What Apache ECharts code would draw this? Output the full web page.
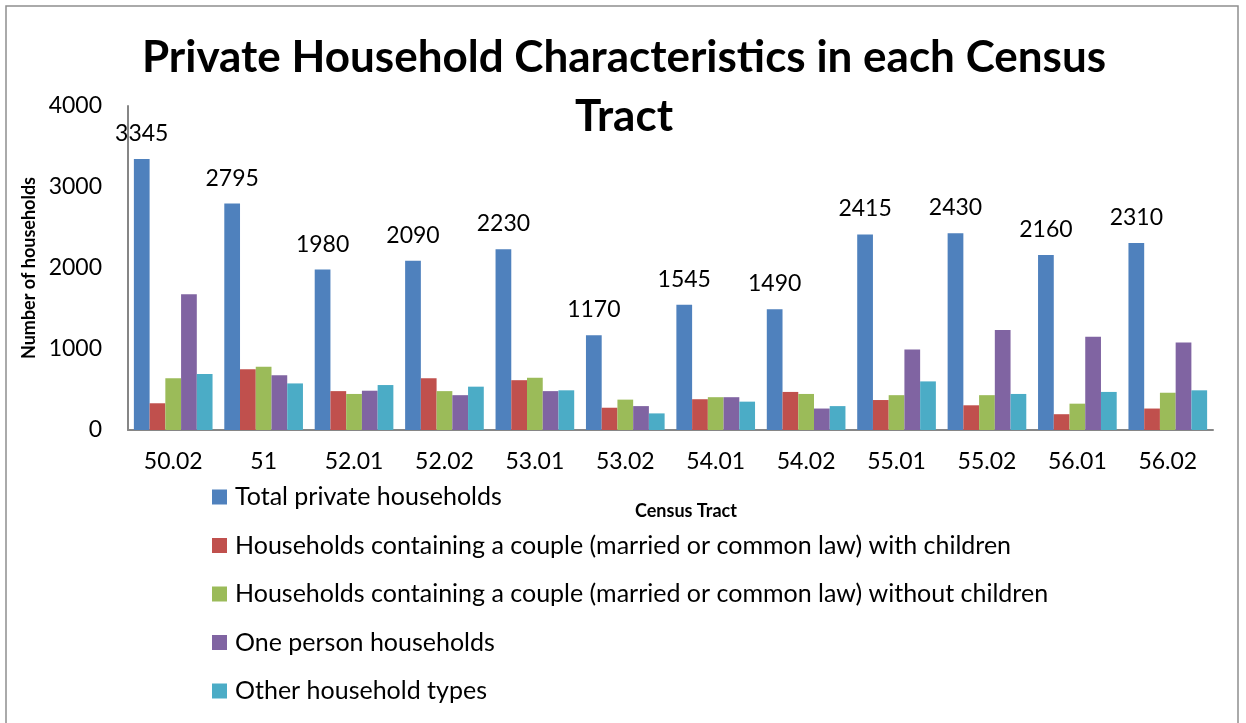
<!DOCTYPE html>
<html>
<head>
<meta charset="utf-8">
<script src="https://cdn.jsdelivr.net/npm/echarts@6/dist/echarts.min.js"></script>
<style>
  html, body { margin: 0; padding: 0; background: #ffffff; }
  #chart { width: 1246px; height: 723px; }
</style>
</head>
<body>
<div id="chart"></div>
<script>
// Census tracts on the category axis
const tracts = ['50.02', '51', '52.01', '52.02', '53.01', '53.02', '54.01', '54.02', '55.01', '55.02', '56.01', '56.02'];

// Household counts per tract
const totalHouseholds   = [3345, 2795, 1980, 2090, 2230, 1170, 1545, 1490, 2415, 2430, 2160, 2310];
const coupleWithKids    = [330, 750, 480, 640, 615, 275, 380, 470, 370, 305, 195, 265];
const coupleWithoutKids = [640, 780, 445, 480, 645, 375, 405, 445, 430, 430, 325, 460];
const onePerson         = [1675, 675, 485, 430, 480, 295, 405, 265, 995, 1235, 1150, 1080];
const otherTypes        = [690, 575, 555, 535, 490, 205, 350, 295, 600, 445, 470, 490];

const seriesNames = [
  'Total private households',
  'Households containing a couple (married or common law) with children',
  'Households containing a couple (married or common law) without children',
  'One person households',
  'Other household types'
];
const seriesData = [totalHouseholds, coupleWithKids, coupleWithoutKids, onePerson, otherTypes];
const palette = ['#4F81BD', '#C0504D', '#9BBB59', '#8064A2', '#4BACC6'];

const chartTitle = 'Private Household Characteristics in each Census\nTract';

// y-axis range
const yMin = 0, yMax = 4000, yStep = 1000;

const FONT = 'Lato, "Open Sans", sans-serif';

const chart = echarts.init(document.getElementById('chart'), null, { renderer: 'canvas' });

const series = seriesData.map((data, i) => ({
  name: seriesNames[i],
  type: 'bar',
  data: data,
  barGap: '0%',
  barCategoryGap: '13%',
  itemStyle: { color: palette[i] },
  label: i === 0 ? {
    show: true,
    position: 'top',
    distance: 14,
    color: '#000',
    fontFamily: FONT,
    fontSize: 23
  } : { show: false },
  emphasis: { disabled: true }
}));

chart.setOption({
  animation: false,
  backgroundColor: '#ffffff',
  color: palette,
  graphic: [{
    type: 'rect',
    shape: { x: 6, y: 6, width: 1232, height: 730 },
    style: { fill: 'none', stroke: '#8f8f8f', lineWidth: 1.5 },
    silent: true,
    z: -1
  }, {
    // two-line chart title, each line centred
    type: 'text',
    x: 624,
    y: 28.5,
    silent: true,
    style: {
      text: chartTitle,
      align: 'center',
      verticalAlign: 'top',
      fontFamily: FONT,
      fontWeight: 'bold',
      fontSize: 44,
      lineHeight: 59,
      fill: '#000'
    }
  }],
  legend: {
    orient: 'vertical',
    left: 212,
    top: 482,
    padding: 0,
    itemWidth: 15,
    itemHeight: 15,
    itemGap: 18.5,
    icon: 'rect',
    textStyle: {
      fontFamily: FONT,
      fontSize: 25,
      lineHeight: 30,
      color: '#000',
      padding: [0, 0, 0, 3]
    },
    data: seriesNames
  },
  grid: {
    left: 128,
    right: 33,
    top: 106,
    bottom: 293,
    containLabel: false
  },
  xAxis: {
    type: 'category',
    data: tracts,
    name: 'Census Tract',
    nameLocation: 'middle',
    nameGap: 72,
    nameTextStyle: {
      fontFamily: FONT,
      fontWeight: 'bold',
      fontSize: 18,
      color: '#000',
      padding: [0, 0, 0, 31]
    },
    axisLine: { lineStyle: { color: '#868686', width: 2 } },
    axisTick: { show: false },
    axisLabel: {
      fontFamily: FONT,
      fontSize: 23,
      color: '#000',
      margin: 20,
      interval: 0
    },
    splitLine: { show: false }
  },
  yAxis: {
    type: 'value',
    min: yMin,
    max: yMax,
    interval: yStep,
    name: 'Number of households',
    nameLocation: 'middle',
    nameGap: 86,
    nameRotate: 90,
    nameTextStyle: {
      fontFamily: FONT,
      fontWeight: 'bold',
      fontSize: 18,
      color: '#000'
    },
    axisLine: { show: true, lineStyle: { color: '#868686', width: 2 } },
    axisTick: { show: false },
    axisLabel: {
      fontFamily: FONT,
      fontSize: 23,
      color: '#000',
      margin: 26,
      formatter: (v) => String(v)
    },
    splitLine: { show: false }
  },
  series: series
});
</script>
</body>
</html>
